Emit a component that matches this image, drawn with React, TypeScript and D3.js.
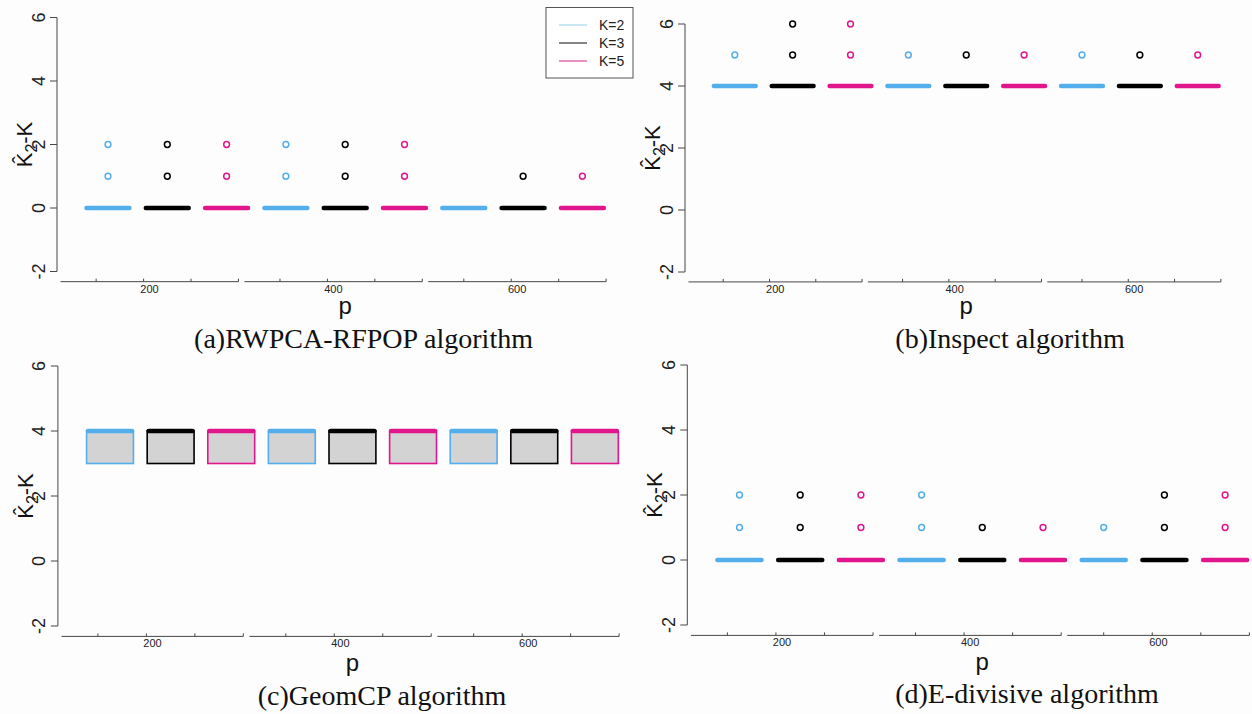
import React from "react";
import * as d3 from "d3";

// Groups are ordered p=200 (K=2, K=3, K=5), p=400 (...), p=600 (...)
const pValues = [200, 400, 600];
const kLabels = ["K=2", "K=3", "K=5"];
const kColors = ["#55AEEC", "#000000", "#E2168C"];
const legendColors = ["#A6D8EC", "#333333", "#E0409A"];
const yTicks = [-2, 0, 2, 4, 6];

// (a) RWPCA-RFPOP
const rwpcaQ1 = [0, 0, 0, 0, 0, 0, 0, 0, 0];
const rwpcaMedian = [0, 0, 0, 0, 0, 0, 0, 0, 0];
const rwpcaQ3 = [0, 0, 0, 0, 0, 0, 0, 0, 0];
const rwpcaOutliers = [[1, 2], [1, 2], [1, 2], [1, 2], [1, 2], [1, 2], [], [1], [1]];

// (b) Inspect
const inspectQ1 = [4, 4, 4, 4, 4, 4, 4, 4, 4];
const inspectMedian = [4, 4, 4, 4, 4, 4, 4, 4, 4];
const inspectQ3 = [4, 4, 4, 4, 4, 4, 4, 4, 4];
const inspectOutliers = [[5], [5, 6], [5, 6], [5], [5], [5], [5], [5], [5]];

// (c) GeomCP
const geomQ1 = [3, 3, 3, 3, 3, 3, 3, 3, 3];
const geomMedian = [4, 4, 4, 4, 4, 4, 4, 4, 4];
const geomQ3 = [4, 4, 4, 4, 4, 4, 4, 4, 4];
const geomOutliers = [[], [], [], [], [], [], [], [], []];

// (d) E-divisive
const edivQ1 = [0, 0, 0, 0, 0, 0, 0, 0, 0];
const edivMedian = [0, 0, 0, 0, 0, 0, 0, 0, 0];
const edivQ3 = [0, 0, 0, 0, 0, 0, 0, 0, 0];
const edivOutliers = [[1, 2], [1, 2], [1, 2], [1, 2], [1], [1], [1], [1, 2], [1, 2]];

const SANS = "'Liberation Sans', Arial, Helvetica, sans-serif";
const SERIF = "'Liberation Serif', 'Times New Roman', serif";
const AXIS = "#474747";

type PanelSpec = {
  title: string;
  q1: number[];
  median: number[];
  q3: number[];
  outliers: number[][];
  left: number;
  right: number;
  yTop6: number;
  yBottom2: number;
  titleX: number;
  titleY: number;
  pGap: number;
  legend?: boolean;
};

const panels: PanelSpec[] = [
  {
    title: "(a)RWPCA-RFPOP algorithm",
    q1: rwpcaQ1, median: rwpcaMedian, q3: rwpcaQ3, outliers: rwpcaOutliers,
    left: 57, right: 633.4, yTop6: 17.5, yBottom2: 271.5,
    titleX: 363.5, titleY: 348, pGap: 32, legend: true,
  },
  {
    title: "(b)Inspect algorithm",
    q1: inspectQ1, median: inspectMedian, q3: inspectQ3, outliers: inspectOutliers,
    left: 685, right: 1247.5, yTop6: 24, yBottom2: 272,
    titleX: 1010, titleY: 348, pGap: 32,
  },
  {
    title: "(c)GeomCP algorithm",
    q1: geomQ1, median: geomMedian, q3: geomQ3, outliers: geomOutliers,
    left: 57.9, right: 647, yTop6: 366, yBottom2: 626,
    titleX: 382, titleY: 705, pGap: 35,
  },
  {
    title: "(d)E-divisive algorithm",
    q1: edivQ1, median: edivMedian, q3: edivQ3, outliers: edivOutliers,
    left: 687.3, right: 1277.3, yTop6: 365, yBottom2: 625,
    titleX: 1027, titleY: 703, pGap: 35,
  },
];

function Panel({ spec }: { spec: PanelSpec }) {
  const n = spec.median.length;
  // R-style boxplot extents: positions 1..n, padded by 4%
  const x = d3.scaleLinear().domain([0.14, n + 0.86]).range([spec.left, spec.right]);
  const y = d3.scaleLinear().domain([6, -2]).range([spec.yTop6, spec.yBottom2]);
  const plotBottom = y(-2.32);
  const plotTop = y(6.32);
  const boxW = 0.8;
  const medW = 4.4;

  const groups = d3.range(n).map((i) => ({
    i,
    pos: i + 1,
    color: kColors[i % kLabels.length],
    q1: spec.q1[i],
    med: spec.median[i],
    q3: spec.q3[i],
    out: spec.outliers[i],
  }));

  const axisX = x(0.14);
  const midX = (x(0.14) + x(n + 0.86)) / 2;
  const midY = (plotTop + plotBottom) / 2;

  return (
    <g>
      {/* y axis */}
      <line x1={axisX} x2={axisX} y1={y(-2)} y2={y(6)} stroke={AXIS} strokeWidth={1} />
      {yTicks.map((t) => (
        <g key={t}>
          <line x1={axisX - 7} x2={axisX} y1={y(t)} y2={y(t)} stroke={AXIS} strokeWidth={1} />
          <text
            transform={`translate(${axisX - 12.5},${y(t)}) rotate(-90)`}
            textAnchor="middle"
            fontFamily={SANS}
            fontSize={18}
            fill="#222"
          >
            {t}
          </text>
        </g>
      ))}
      <text
        transform={`translate(${axisX - 25},${midY}) rotate(-90)`}
        textAnchor="middle"
        fontFamily={SANS}
        fontSize={22}
        fill="#111"
      >
        {"K\u0302"}
        <tspan fontSize={16} dy={5}>2</tspan>
        <tspan dy={-5}>-K</tspan>
      </text>

      {/* x axis: one segment per p */}
      {pValues.map((p, g) => {
        const s = 0.2 + 3.1 * g;
        const ticks = [0.6, 1.4, 2.2, 3.0].map((d) => s + d);
        return (
          <g key={p}>
            <line x1={x(s)} x2={x(s + 3)} y1={plotBottom} y2={plotBottom} stroke={AXIS} strokeWidth={1} />
            {ticks.map((t) => (
              <line key={t} x1={x(t)} x2={x(t)} y1={plotBottom - 3} y2={plotBottom} stroke={AXIS} strokeWidth={1} />
            ))}
            <text x={x(s + 1.5)} y={plotBottom + 11} textAnchor="middle" fontFamily={SANS} fontSize={11} fill="#222">
              {p}
            </text>
          </g>
        );
      })}
      <text x={midX} y={plotBottom + spec.pGap} textAnchor="middle" fontFamily={SANS} fontSize={24} fill="#111">
        p
      </text>

      {/* boxes */}
      {groups.map((d) => {
        const x0 = x(d.pos - boxW / 2);
        const x1 = x(d.pos + boxW / 2);
        return (
          <g key={d.i}>
            {d.q3 > d.q1 && (
              <rect
                x={x0 + 0.8}
                y={y(d.q3)}
                width={x1 - x0 - 1.6}
                height={y(d.q1) - y(d.q3)}
                fill="#D3D3D3"
                stroke={d.color}
                strokeWidth={1.6}
              />
            )}
            <line
              x1={x0 + medW / 2}
              x2={x1 - medW / 2}
              y1={y(d.med)}
              y2={y(d.med)}
              stroke={d.color}
              strokeWidth={medW}
              strokeLinecap="round"
            />
            {d.out.map((v, k) => (
              <circle key={k} cx={x(d.pos)} cy={y(v)} r={2.9} fill="none" stroke={d.color} strokeWidth={1.5} />
            ))}
          </g>
        );
      })}

      {/* caption */}
      <text x={spec.titleX} y={spec.titleY} textAnchor="middle" fontFamily={SERIF} fontSize={28} fill="#111">
        {spec.title}
      </text>

      {spec.legend && (
        <g>
          <rect x={546} y={7.5} width={87} height={70.5} fill="#FFFFFF" stroke="#555" strokeWidth={1} />
          {kLabels.map((k, i) => (
            <g key={k}>
              <line x1={559} x2={587} y1={25 + i * 18} y2={25 + i * 18} stroke={legendColors[i]} strokeWidth={1.2} />
              <text x={599} y={25 + i * 18 + 5} fontFamily={SANS} fontSize={14} fill="#222">
                {k}
              </text>
            </g>
          ))}
        </g>
      )}
    </g>
  );
}

export default function App() {
  return (
    <svg
      width={1252}
      height={714}
      viewBox="0 0 1252 714"
      style={{ position: "absolute", left: 0, top: 0, background: "#FDFDFD" }}
    >
      <rect x={0} y={0} width={1252} height={714} fill="#FDFDFD" />
      {panels.map((p) => (
        <Panel key={p.title} spec={p} />
      ))}
    </svg>
  );
}
